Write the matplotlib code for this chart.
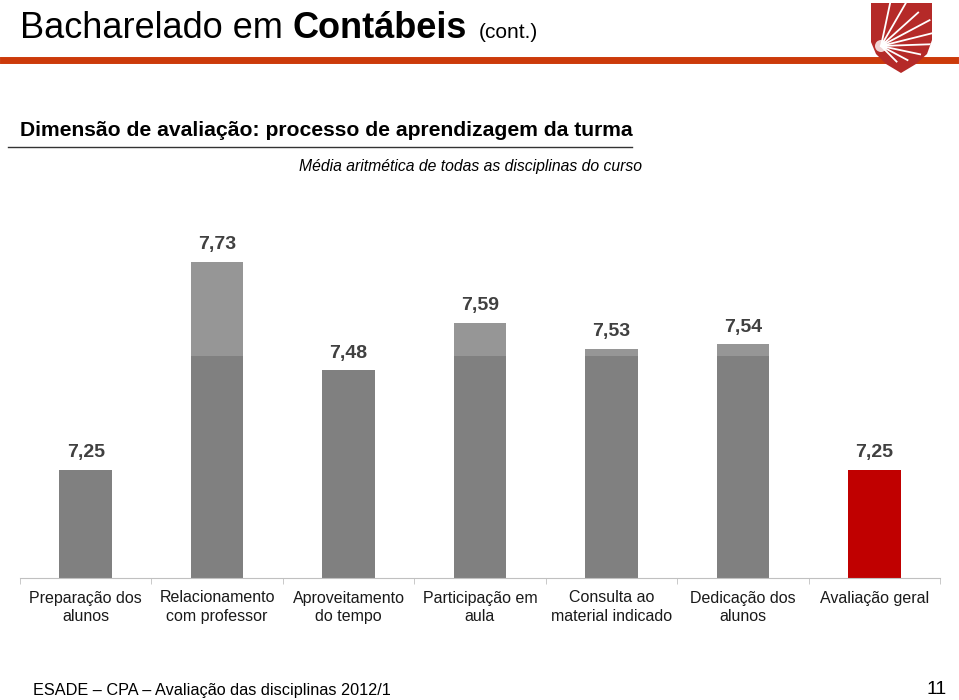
import numpy as np
import matplotlib.pyplot as plt
from matplotlib.patches import Polygon, Circle

plt.rcParams['font.family'] = ['Liberation Sans', 'DejaVu Sans']

# dados
categorias = ['Preparação dos\nalunos', 'Relacionamento\ncom professor', 'Aproveitamento\ndo tempo',
              'Participação em\naula', 'Consulta ao\nmaterial indicado', 'Dedicação dos\nalunos',
              'Avaliação geral']
medias = [7.25, 7.73, 7.48, 7.59, 7.53, 7.54, 7.25]
rotulos = ['7,25', '7,73', '7,48', '7,59', '7,53', '7,54', '7,25']
cores = ['#808080'] * 6 + ['#C00000']

W, H = 959, 700
fig = plt.figure(figsize=(W / 100, H / 100), dpi=100)
renderer = fig.canvas.get_renderer()

# cabecalho (textos encadeados na mesma linha de base)
yb = 1 - 38 / H
xpos = 20 / W
for txt, tam, peso, folga in [('Bacharelado em ', 26, 'normal', 0), ('Contábeis', 26, 'bold', 12),
                              ('(cont.)', 15, 'normal', 0)]:
    t = fig.text(xpos, yb, txt, fontsize=tam, fontweight=peso, va='baseline', ha='left')
    bb = t.get_window_extent(renderer)
    xpos = (bb.x1 + folga) / W
fig.add_artist(plt.Line2D([3 / W, 955 / W], [1 - 59.5 / H, 1 - 59.5 / H], color='#CC3A0A', lw=5, zorder=0))

# logo (escudo)
lx = fig.add_axes([866 / W, 1 - 76 / H, 72 / W, 76 / H], zorder=5)
lx.set_xlim(0, 72)
lx.set_ylim(76, 0)
lx.axis('off')
escudo = Polygon([[5, 3], [66, 3], [66, 40], [61, 54], [50, 64], [35, 73], [20, 64], [10, 54], [5, 42]],
                 closed=True, facecolor='#B52A28', edgecolor='none')
lx.add_patch(escudo)
cx, cy = 15, 46
for ang, comp in [(-78, 45), (-60, 50), (-42, 50), (-28, 55), (-14, 55), (-2, 50), (12, 40), (28, 30), (45, 22)]:
    r = np.deg2rad(ang)
    ln, = lx.plot([cx, cx + comp * np.cos(r)], [cy, cy + comp * np.sin(r)], color='white', lw=1.3)
    ln.set_clip_path(escudo)
brilho_c = Circle((cx, cy), 6, facecolor='white', edgecolor='none', alpha=0.8)
lx.add_patch(brilho_c)
brilho_c.set_clip_path(escudo)

# subtitulos
fig.text(20 / W, 1 - 130 / H, 'Dimensão de avaliação: processo de aprendizagem da turma',
         fontsize=15.2, fontweight='bold', va='center', ha='left')
fig.add_artist(plt.Line2D([8 / W, 632 / W], [1 - 147 / H, 1 - 147 / H], color='#333333', lw=1))
fig.text(642 / W, 1 - 166 / H, 'Média aritmética de todas as disciplinas do curso',
         fontsize=11.3, fontstyle='italic', va='center', ha='right')

# grafico
ax = fig.add_axes([20 / W, 1 - 578 / H, 920 / W, 390 / H])
x = np.arange(len(medias))
base = 7.0
brilho = 7.513
ax.bar(x, np.array(medias) - base, bottom=base, width=0.40, color=cores, zorder=2)
for i, v in enumerate(medias):
    if v > brilho and i < 6:
        ax.bar(i, v - brilho, bottom=brilho, width=0.40, color='#969696', zorder=3)
    ax.text(i, v + 0.02, rotulos[i], ha='center', va='bottom', fontsize=14,
            fontweight='bold', color='#404040')

ax.set_xlim(-0.5, len(medias) - 0.5)
ax.set_ylim(base, base + 390 / 433)
for s in ['top', 'right', 'left']:
    ax.spines[s].set_visible(False)
ax.spines['bottom'].set_color('#C0C0C0')
ax.set_yticks([])
ax.set_xticks(np.arange(-0.5, len(medias)), minor=True)
ax.set_xticks(x)
ax.set_xticklabels(categorias, fontsize=11.5, color='#1A1A1A', linespacing=1.3)
ax.tick_params(axis='x', which='major', length=0, pad=9)
ax.tick_params(axis='x', which='minor', length=4, color='#C0C0C0')

# rodape
fig.text(33 / W, 1 - 690 / H, 'ESADE – CPA – Avaliação das disciplinas 2012/1', fontsize=11.7,
         va='center', ha='left')
fig.text(947 / W, 1 - 690 / H, '11', fontsize=14, va='center', ha='right')

fig.savefig('out.png', dpi=100)
